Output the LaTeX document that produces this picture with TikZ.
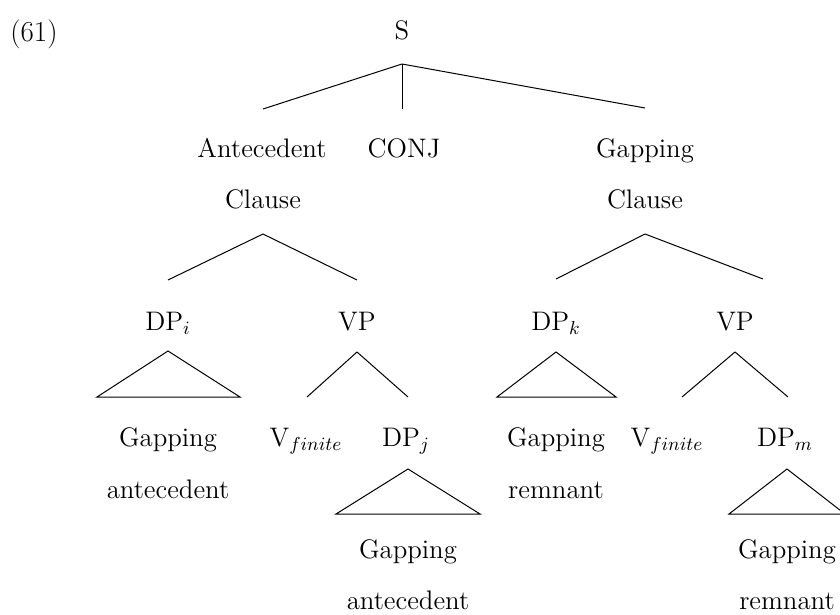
\documentclass[tikz,border=0pt]{standalone}
\usepackage{fix-cm}
\usepackage{fontspec}
\setmainfont{Latin Modern Roman}
\begin{document}
\begin{tikzpicture}[x=0.5pt,y=-0.5pt,
  lbl/.style={anchor=base,inner sep=0pt,font=\fontsize{13.4}{16}\selectfont},
  edge/.style={line width=0.5pt}]
\useasboundingbox (0,0) rectangle (840,615);
\clip (0,0) rectangle (840,615);
% labels
\node[lbl,anchor=base west,font=\fontsize{14.5}{17}\selectfont] (ex) at (10,42) {(61)};
\node[lbl] (S) at (402,40) {S};
\node[lbl] (ante) at (262,157) {Antecedent};
\node[lbl] (anteC) at (263,208) {Clause};
\node[lbl] (conj) at (404,157) {CONJ};
\node[lbl] (gap) at (645,157) {Gapping};
\node[lbl] (gapC) at (645,208) {Clause};
\node[lbl] (dpi) at (168,330) {DP$_i$};
\node[lbl] (vpl) at (357,330) {VP};
\node[lbl] (dpk) at (556,330) {DP$_k$};
\node[lbl] (vpr) at (735,330) {VP};
\node[lbl] (g1) at (168,446) {Gapping};
\node[lbl] (vf1) at (306,446) {V$_{finite}$};
\node[lbl] (dpj) at (406,446) {DP$_j$};
\node[lbl] (g2) at (556,446) {Gapping};
\node[lbl] (vf2) at (667,446) {V$_{finite}$};
\node[lbl] (dpm) at (785,446) {DP$_m$};
\node[lbl] (a1) at (168,498) {antecedent};
\node[lbl] (r1) at (556,498) {remnant};
\node[lbl] (g3) at (408,558) {Gapping};
\node[lbl] (a3) at (408,609) {antecedent};
\node[lbl] (g4) at (787,558) {Gapping};
\node[lbl] (r4) at (787,609) {remnant};
% connector ends
\coordinate (Sb) at (402,64);
\coordinate (anteT) at (263,109);
\coordinate (conjT) at (402,109);
\coordinate (gapT) at (645,108);
\coordinate (anteB) at (263,234);
\coordinate (dpiT) at (168,280);
\coordinate (vplT) at (357,280);
\coordinate (gapB) at (645,234);
\coordinate (dpkT) at (556,279);
\coordinate (vprT) at (763,279);
\coordinate (dpiB) at (168,351);
\coordinate (t1l) at (97,397);
\coordinate (t1r) at (240,397);
\coordinate (vplB) at (357,352);
\coordinate (vf1T) at (307,397);
\coordinate (dpjT) at (408,397);
\coordinate (dpkB) at (556,352);
\coordinate (t2l) at (497,397);
\coordinate (t2r) at (616,397);
\coordinate (vprB) at (735,352);
\coordinate (vf2T) at (682,397);
\coordinate (dpmT) at (788,397);
\coordinate (dpjB) at (408,469);
\coordinate (t3l) at (336,514);
\coordinate (t3r) at (480,514);
\coordinate (dpmB) at (787,469);
\coordinate (t4l) at (729,514);
\coordinate (t4r) at (845,514);
% connectors
\draw[edge] (Sb) -- (anteT);
\draw[edge] (Sb) -- (conjT);
\draw[edge] (Sb) -- (gapT);
\draw[edge] (anteB) -- (dpiT);
\draw[edge] (anteB) -- (vplT);
\draw[edge] (gapB) -- (dpkT);
\draw[edge] (gapB) -- (vprT);
\draw[edge] (dpiB) -- (t1l) -- (t1r) -- cycle;
\draw[edge] (vplB) -- (vf1T);
\draw[edge] (vplB) -- (dpjT);
\draw[edge] (dpkB) -- (t2l) -- (t2r) -- cycle;
\draw[edge] (vprB) -- (vf2T);
\draw[edge] (vprB) -- (dpmT);
\draw[edge] (dpjB) -- (t3l) -- (t3r) -- cycle;
\draw[edge] (dpmB) -- (t4l) -- (t4r) -- cycle;
\end{tikzpicture}
\end{document}
